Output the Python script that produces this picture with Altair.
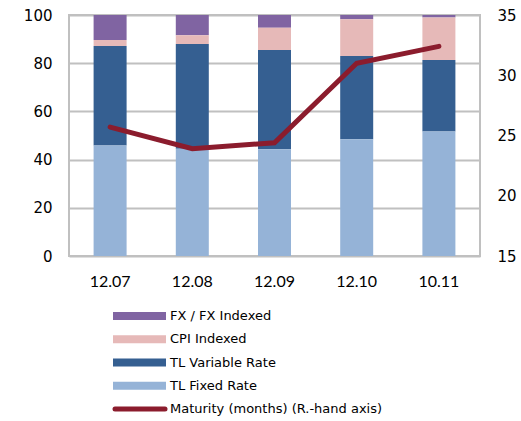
import altair as alt
import pandas as pd

# Periods and composition of debt stock (% share)
periods = ["12.07", "12.08", "12.09", "12.10", "10.11"]
tl_fixed = [45.8, 44.5, 44.3, 48.4, 51.7]
tl_variable = [41.3, 43.5, 41.2, 34.6, 29.6]
cpi_indexed = [2.5, 3.6, 9.2, 15.2, 17.7]
fx_indexed = [10.4, 8.4, 5.3, 1.8, 1.0]
# Average maturity in months (right-hand axis)
maturity = [25.7, 23.9, 24.4, 31.0, 32.4]

series_names = ["FX / FX Indexed", "CPI Indexed", "TL Variable Rate", "TL Fixed Rate"]
series_colors = ["#8064a2", "#e6b9b8", "#355f91", "#95b3d7"]
line_name = "Maturity (months) (R.-hand axis)"
line_color = "#8b1c2d"

# stacking order from bottom to top
stack_order = {"TL Fixed Rate": 0, "TL Variable Rate": 1, "CPI Indexed": 2, "FX / FX Indexed": 3}

rows = []
for i, p in enumerate(periods):
    for name, vals in zip(series_names, [fx_indexed, cpi_indexed, tl_variable, tl_fixed]):
        rows.append({"period": p, "series": name, "value": vals[i], "order": stack_order[name]})
bars_df = pd.DataFrame(rows)
line_df = pd.DataFrame({"period": periods, "maturity": maturity})
legend_df = pd.DataFrame({"series": series_names, "idx": list(range(len(series_names)))})
legend_line_df = pd.DataFrame({"series": [line_name], "idx": [len(series_names)]})

W, H = 411, 241
FONT = "DejaVu Sans"

x_enc = alt.X(
    "period:N",
    sort=periods,
    scale=alt.Scale(paddingInner=0.6, paddingOuter=0.3),
    axis=alt.Axis(title=None, labelAngle=0, ticks=False, domain=False, grid=False,
                  labelFont="Lato", labelFontSize=16, labelColor="#000000", labelPadding=17),
)

color_scale = alt.Scale(domain=series_names, range=series_colors)

bars = alt.Chart(bars_df).mark_bar(size=33).encode(
    x=x_enc,
    y=alt.Y("value:Q", stack="zero", scale=alt.Scale(domain=[0, 100]),
            axis=alt.Axis(title=None, values=[0, 20, 40, 60, 80, 100], ticks=False, domain=False,
                          gridColor="#c0c0c0", gridWidth=2, labelFont=FONT, labelFontSize=15,
                          labelColor="#000000", labelPadding=17)),
    color=alt.Color("series:N", scale=color_scale, legend=None),
    order=alt.Order("order:Q", sort="ascending"),
)

line = alt.Chart(line_df).mark_line(color=line_color, strokeWidth=5, strokeCap="round",
                                    strokeJoin="miter").encode(
    x=alt.X("period:N", sort=periods),
    y=alt.Y("maturity:Q", scale=alt.Scale(domain=[15, 35]),
            axis=alt.Axis(title=None, orient="right", values=[15, 20, 25, 30, 35], ticks=False,
                          domain=False, grid=False, labelFont=FONT, labelFontSize=15,
                          labelColor="#000000", labelPadding=17)),
)

# legend below the plot
legend_y = alt.Y("idx:O", scale=alt.Scale(type="point", domain=[0, 1, 2, 3, 4], range=[301, 394],
                                          padding=0),
                 axis=None)

legend_swatches = alt.Chart(legend_df).mark_rule(strokeWidth=8, strokeCap="butt").encode(
    x=alt.value(44), x2=alt.value(97), y=legend_y,
    color=alt.Color("series:N", scale=color_scale, legend=None),
)
legend_line = alt.Chart(legend_line_df).mark_rule(strokeWidth=5, strokeCap="round",
                                                  color=line_color).encode(
    x=alt.value(46), x2=alt.value(96), y=legend_y,
)
legend_text = alt.Chart(pd.concat([legend_df, legend_line_df])).mark_text(
    align="left", baseline="middle", font=FONT, fontSize=13, color="#000000"
).encode(
    x=alt.value(101), y=legend_y, text="series:N",
)

chart = (
    alt.layer(bars, line, legend_swatches, legend_line, legend_text)
    .resolve_scale(y="independent")
    .properties(
        width=W, height=H,
        autosize=alt.AutoSizeParams(type="none"),
        padding={"left": 69, "top": 15, "right": 41, "bottom": 165},
        background="#ffffff",
    )
    .configure_view(stroke="#c0c0c0", strokeWidth=2)
)

chart.save("out.html", embed_options={"renderer": "svg", "actions": False})
